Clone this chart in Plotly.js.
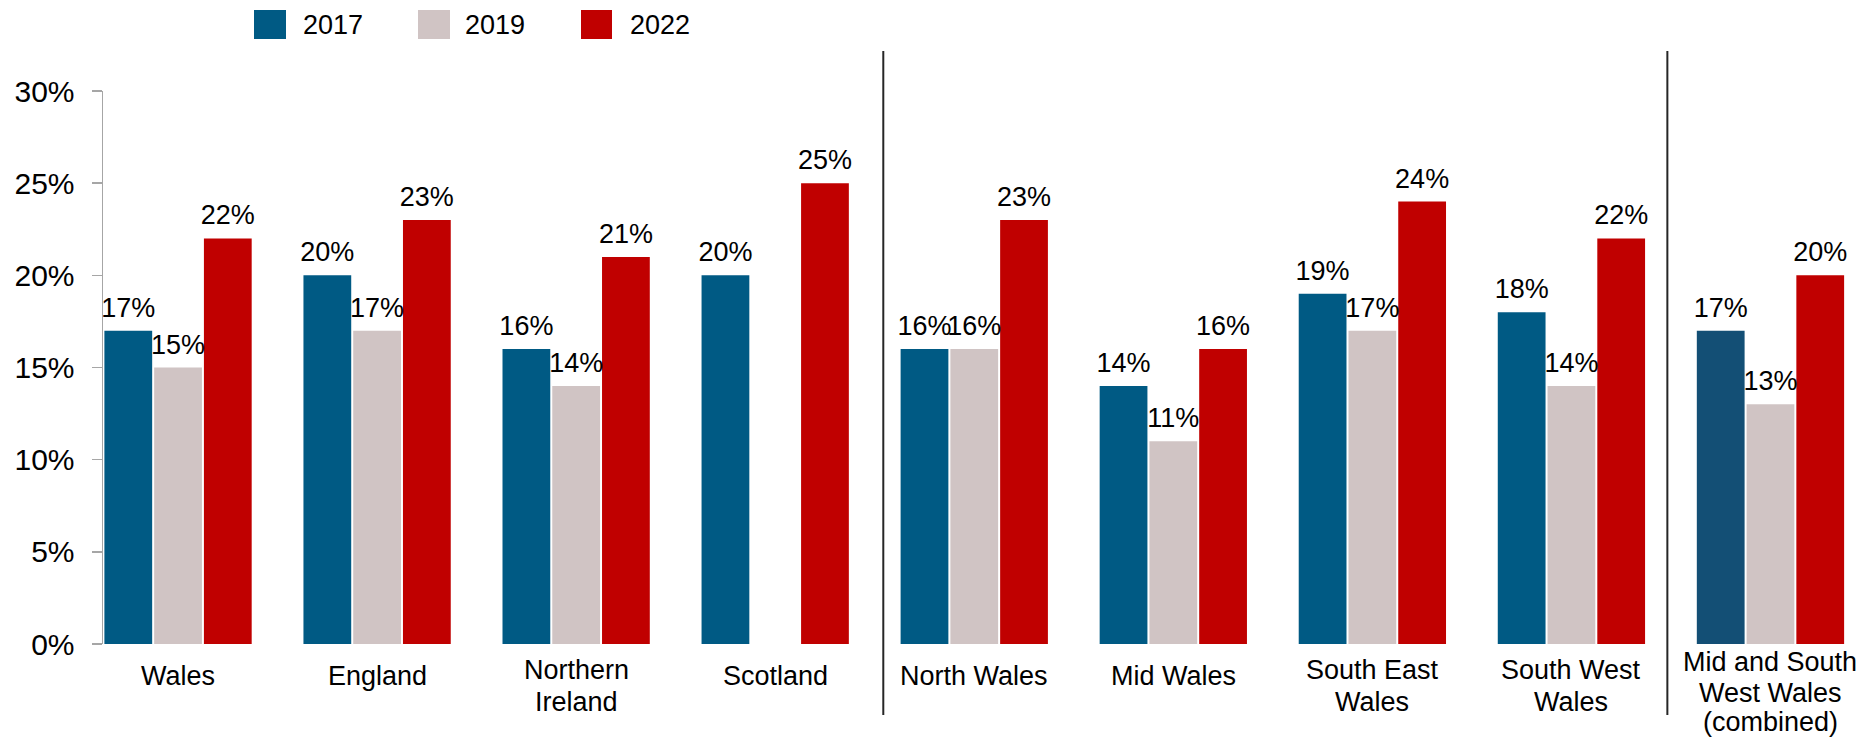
<!DOCTYPE html>
<html>
<head>
<meta charset="utf-8">
<script src="https://cdn.plot.ly/plotly-3.0.1.min.js"></script>
<style>
  html, body { margin: 0; padding: 0; background: #ffffff; }
  #chart { width: 1876px; height: 741px; }
</style>
</head>
<body>
<div id="chart"></div>
<script>
// ---- Data ----
const categories = [
  "Wales", "England", "Northern<br>Ireland", "Scotland",
  "North Wales", "Mid Wales", "South East<br>Wales", "South West<br>Wales",
  "Mid and South<br>West Wales<br>(combined)"
];
const seriesNames = ["2017", "2019", "2022"];
const values2017 = [17, 20, 16, 20, 16, 14, 19, 18, 17];
const values2019 = [15, 17, 14, null, 16, 11, 17, 14, 13];
const values2022 = [22, 23, 21, 25, 23, 16, 24, 22, 20];
const yTickVals = [0, 5, 10, 15, 20, 25, 30];

// ---- Styles ----
const FONT = '"Liberation Sans", Arial, sans-serif';
const col2017 = "#005A84";
const col2017Combined = "#134F75";
const col2019 = "#D0C4C4";
const col2022 = "#C00000";
const seriesColors = [col2017, col2019, col2022];

const W = 1876, H = 741;
const M = { l: 103, r: 6, t: 91, b: 97 };
const plotW = W - M.l - M.r, plotH = H - M.t - M.b;
const px2x = p => (p - M.l) / plotW;
const py2y = p => (H - M.b - p) / plotH;

const colors2017 = values2017.map((v, i) => i === values2017.length - 1 ? col2017Combined : col2017);
const allSeries = [values2017, values2019, values2022];
const allColors = [colors2017, col2019, col2022];

const data = [];
// bars
allSeries.forEach((vals, k) => {
  data.push({
    type: "bar",
    name: seriesNames[k],
    x: categories,
    y: vals,
    marker: { color: allColors[k], line: { width: 0 } },
    hoverinfo: "x+y",
    showlegend: false
  });
});
// value labels (grouped scatter text aligned with the bars)
allSeries.forEach((vals, k) => {
  data.push({
    type: "scatter",
    mode: "markers+text",
    name: seriesNames[k] + " labels",
    x: categories,
    y: vals,
    text: vals.map(v => v === null ? "" : v + "%"),
    textposition: "top center",
    textfont: { family: FONT, size: 27, color: "#000000" },
    marker: { size: 10, color: "rgba(0,0,0,0)", line: { width: 0 } },
    cliponaxis: false,
    hoverinfo: "skip",
    showlegend: false
  });
});

// ---- Custom legend (squares + labels) ----
const legendSquares = [[254, 286], [418, 450], [581, 612]];
const legendTextX = [301, 463, 628];
const shapes = [];
const annotations = [];
seriesNames.forEach((n, i) => {
  shapes.push({
    type: "rect", xref: "paper", yref: "paper",
    x0: px2x(legendSquares[i][0]), x1: px2x(legendSquares[i][1]),
    y0: py2y(39), y1: py2y(10),
    fillcolor: seriesColors[i], line: { width: 0 }
  });
  annotations.push({
    xref: "paper", yref: "paper",
    x: px2x(legendTextX[i]), y: py2y(25),
    xanchor: "left", yanchor: "middle",
    text: n, showarrow: false,
    font: { family: FONT, size: 27, color: "#000000" }
  });
});

// ---- Category labels (one annotation per line for tight line spacing) ----
const lineBaselines = { 1: [685], 2: [679, 711], 3: [671, 702, 731] };
categories.forEach(cat => {
  const lines = cat.split("<br>");
  lines.forEach((ln, j) => {
    annotations.push({
      xref: "x", yref: "paper",
      x: cat, y: py2y(lineBaselines[lines.length][j] - 9.4),
      xanchor: "center", yanchor: "middle",
      text: ln, showarrow: false,
      font: { family: FONT, size: 27, color: "#000000" }
    });
  });
});

// ---- Group separators ----
[3.543, 7.482].forEach(xv => {
  shapes.push({
    type: "line", xref: "x", yref: "paper",
    x0: xv, x1: xv, y0: py2y(715), y1: py2y(51),
    line: { color: "#262626", width: 2 }
  });
});

const layout = {
  width: W, height: H,
  margin: M,
  paper_bgcolor: "#ffffff",
  plot_bgcolor: "#ffffff",
  barmode: "group",
  bargap: 0.25,
  bargroupgap: 0.04,
  scattermode: "group",
  scattergap: 0.25,
  showlegend: false,
  font: { family: FONT, color: "#000000" },
  xaxis: {
    type: "category",
    range: [-0.377, 8.5],
    showline: false,
    showgrid: false,
    zeroline: false,
    ticks: "",
    showticklabels: false,
    fixedrange: true
  },
  yaxis: {
    range: [0, 30],
    tickvals: yTickVals,
    ticktext: yTickVals.map(v => v + "%"),
    showline: true,
    linecolor: "#A6A6A6",
    linewidth: 1.5,
    ticks: "outside",
    ticklen: 10,
    tickwidth: 1.5,
    tickcolor: "#A6A6A6",
    ticklabelstandoff: 11,
    showgrid: false,
    zeroline: false,
    tickfont: { family: FONT, size: 30, color: "#000000" },
    fixedrange: true
  },
  shapes: shapes,
  annotations: annotations
};

Plotly.newPlot("chart", data, layout, { displayModeBar: false, staticPlot: true });
</script>
</body>
</html>
